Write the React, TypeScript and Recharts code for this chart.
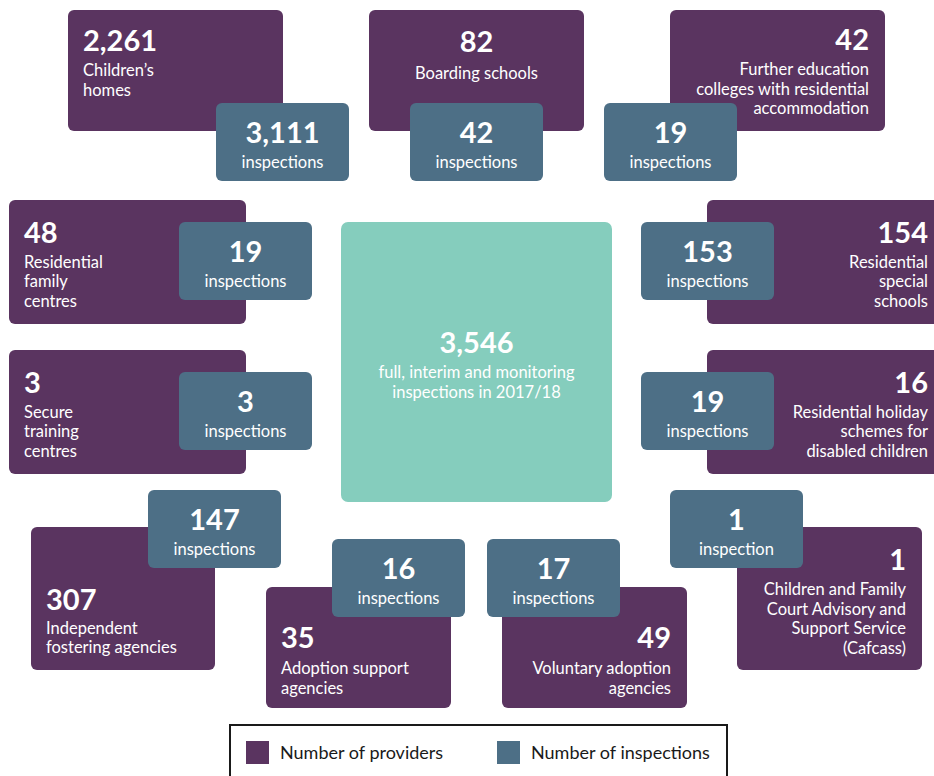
import React from "react";
import { ScatterChart, Scatter, XAxis, YAxis, Legend } from "recharts";

// ---------- data ----------
const categories: string[][] = [
  ["Children’s", "homes"],
  ["Boarding schools"],
  ["Further education", "colleges with residential", "accommodation"],
  ["Residential", "family", "centres"],
  ["Residential", "special", "schools"],
  ["Secure", "training", "centres"],
  ["Residential holiday", "schemes for", "disabled children"],
  ["Independent", "fostering agencies"],
  ["Adoption support", "agencies"],
  ["Voluntary adoption", "agencies"],
  ["Children and Family", "Court Advisory and", "Support Service", "(Cafcass)"],
];
const providers = [2261, 82, 42, 48, 154, 3, 16, 307, 35, 49, 1];
const inspections = [3111, 42, 19, 19, 153, 3, 19, 147, 16, 17, 1];
const totalInspections = 3546;
const totalLabel = ["full, interim and monitoring", "inspections in 2017/18"];
const legendLabels = ["Number of providers", "Number of inspections"];

// ---------- layout (infographic positions, kept separate from data) ----------
type Align = "start" | "middle" | "end";
const providerLayout: { x: number; y: number; w: number; h: number; align: Align; numDy: number; lblDy: number }[] = [
  { x: 68, y: 10, w: 215, h: 121, align: "start", numDy: 41, lblDy: 66 },
  { x: 369, y: 10, w: 215, h: 121, align: "middle", numDy: 42, lblDy: 69 },
  { x: 670, y: 10, w: 215, h: 121, align: "end", numDy: 40, lblDy: 65 },
  { x: 9, y: 200, w: 237, h: 124, align: "start", numDy: 43, lblDy: 67.5 },
  { x: 707, y: 200, w: 237, h: 124, align: "end", numDy: 43, lblDy: 67.5 },
  { x: 9, y: 350, w: 237, h: 124, align: "start", numDy: 43, lblDy: 67.5 },
  { x: 707, y: 350, w: 237, h: 124, align: "end", numDy: 43, lblDy: 67.5 },
  { x: 31, y: 527, w: 184, h: 143, align: "start", numDy: 83, lblDy: 106.5 },
  { x: 266, y: 587, w: 185, h: 121, align: "start", numDy: 61, lblDy: 87 },
  { x: 502, y: 587, w: 185, h: 121, align: "end", numDy: 61, lblDy: 87 },
  { x: 737, y: 527, w: 185, h: 143, align: "end", numDy: 43, lblDy: 68 },
];
const inspectionLayout: { x: number; y: number }[] = [
  { x: 216, y: 103 },
  { x: 410, y: 103 },
  { x: 604, y: 103 },
  { x: 179, y: 222 },
  { x: 641, y: 222 },
  { x: 179, y: 372 },
  { x: 641, y: 372 },
  { x: 148, y: 490 },
  { x: 332, y: 539 },
  { x: 487, y: 539 },
  { x: 670, y: 490 },
];
const totalLayout = { x: 341, y: 222, w: 271, h: 280 };

const W = 934;
const H = 776;
const PURPLE = "#5a3460";
const BLUE = "#4d6f86";
const TEAL = "#85cdbd";
const FONT = "Lato, 'Open Sans', sans-serif";
const NUM_SIZE = 29;
const LBL_SIZE = 16.5;
const LINE = 19.5;
const INS_W = 133;
const INS_H = 78;

const fmt = (n: number) => n.toLocaleString("en-US");

const providerData = providers.map((v, i) => ({
  x: providerLayout[i].x,
  y: providerLayout[i].y,
  value: v,
  lines: categories[i],
  lay: providerLayout[i],
}));
const inspectionData = inspections.map((v, i) => ({
  x: inspectionLayout[i].x,
  y: inspectionLayout[i].y,
  value: v,
}));
const totalData = [{ x: totalLayout.x, y: totalLayout.y, value: totalInspections }];

const ProviderShape = (props: any) => {
  const { cx, cy, payload } = props;
  const lay = payload.lay;
  const tx =
    lay.align === "start" ? cx + 15 : lay.align === "end" ? cx + lay.w - 16 : cx + lay.w / 2;
  return (
    <g>
      <rect x={cx} y={cy} width={lay.w} height={lay.h} rx={6} ry={6} fill={PURPLE} />
      <text x={tx} y={cy + lay.numDy} textAnchor={lay.align} fill="#fff" fontFamily={FONT} fontWeight={700} fontSize={NUM_SIZE}>
        {fmt(payload.value)}
      </text>
      {payload.lines.map((l: string, k: number) => (
        <text key={k} x={tx} y={cy + lay.lblDy + k * LINE} textAnchor={lay.align} fill="#fff" fontFamily={FONT} fontSize={LBL_SIZE}>
          {l}
        </text>
      ))}
    </g>
  );
};

const InspectionShape = (props: any) => {
  const { cx, cy, payload } = props;
  const mx = cx + INS_W / 2;
  return (
    <g>
      <rect x={cx} y={cy} width={INS_W} height={INS_H} rx={6} ry={6} fill={BLUE} />
      <text x={mx} y={cy + 39.5} textAnchor="middle" fill="#fff" fontFamily={FONT} fontWeight={700} fontSize={NUM_SIZE}>
        {fmt(payload.value)}
      </text>
      <text x={mx} y={cy + 64.5} textAnchor="middle" fill="#fff" fontFamily={FONT} fontSize={LBL_SIZE}>
        {payload.value === 1 ? "inspection" : "inspections"}
      </text>
    </g>
  );
};

const TotalShape = (props: any) => {
  const { cx, cy, payload } = props;
  const mx = cx + totalLayout.w / 2;
  return (
    <g>
      <rect x={cx} y={cy} width={totalLayout.w} height={totalLayout.h} rx={7} ry={7} fill={TEAL} />
      <text x={mx} y={cy + 131} textAnchor="middle" fill="#fff" fontFamily={FONT} fontWeight={700} fontSize={NUM_SIZE}>
        {fmt(payload.value)}
      </text>
      {totalLabel.map((l, k) => (
        <text key={k} x={mx} y={cy + 156 + k * LINE} textAnchor="middle" fill="#fff" fontFamily={FONT} fontSize={LBL_SIZE}>
          {l}
        </text>
      ))}
    </g>
  );
};

const LegendContent = () => {
  const items = [
    { label: legendLabels[0], color: PURPLE },
    { label: legendLabels[1], color: BLUE },
  ];
  return (
    <div
      style={{
        boxSizing: "border-box",
        width: 499,
        height: 60,
        border: "2.5px solid #1a1a1a",
        background: "#fff",
        position: "relative",
        fontFamily: FONT,
      }}
    >
      {items.map((it, i) => (
        <div
          key={i}
          style={{
            position: "absolute",
            left: i === 0 ? 15 : 266,
            top: 15,
            display: "flex",
            alignItems: "center",
            height: 23,
          }}
        >
          <span style={{ display: "inline-block", width: 23, height: 23, background: it.color, marginRight: 11 }} />
          <span style={{ fontSize: 18, color: "#1a1a1a", whiteSpace: "nowrap", lineHeight: "23px" }}>{it.label}</span>
        </div>
      ))}
    </div>
  );
};

export default function App() {
  return (
    <div style={{ position: "absolute", top: 0, left: 0, width: W, height: H, overflow: "hidden", background: "#fff" }}>
      <ScatterChart width={W} height={H} margin={{ top: 0, right: 0, bottom: 0, left: 0 }}>
        <XAxis type="number" dataKey="x" domain={[0, W]} hide />
        <YAxis type="number" dataKey="y" domain={[0, H]} reversed hide />
        <Scatter name="total" data={totalData} shape={TotalShape} legendType="none" isAnimationActive={false} />
        <Scatter name={legendLabels[0]} data={providerData} fill={PURPLE} shape={ProviderShape} isAnimationActive={false} />
        <Scatter name={legendLabels[1]} data={inspectionData} fill={BLUE} shape={InspectionShape} isAnimationActive={false} />
        <Legend
          verticalAlign="middle"
          align="center"
          content={<LegendContent />}
          wrapperStyle={{ position: "absolute", left: 229, top: 724, width: 499, height: 60 }}
        />
      </ScatterChart>
    </div>
  );
}
